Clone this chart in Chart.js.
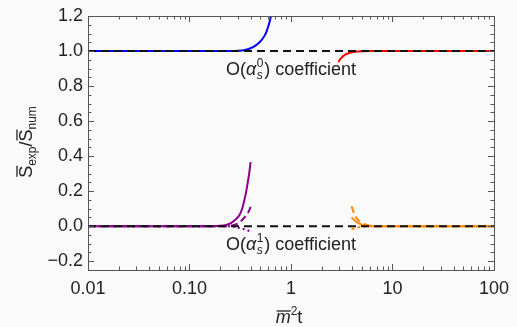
<!DOCTYPE html>
<html><head><meta charset="utf-8">
<script src="https://cdn.jsdelivr.net/npm/chart.js@4"></script>
<style>html,body{margin:0;padding:0;background:#fafafa;}#wrap{width:517px;height:327px;position:relative;}</style>
</head><body><div id="wrap"><canvas id="c" width="517" height="327"></canvas></div>
<script>
// ---- data ----
const xTickValues = [0.01, 0.1, 1, 10, 100];
const xTickLabels = ['0.01', '0.10', '1', '10', '100'];
const yTickValues = [-0.2, 0, 0.2, 0.4, 0.6, 0.8, 1.0, 1.2];
const yTickLabels = ['\u22120.2', '0.0', '0.2', '0.4', '0.6', '0.8', '1.0', '1.2'];

const refOneX = [0.01, 100];
const refOneY = [1, 1];
const refZeroX = [0.01, 100];
const refZeroY = [0, 0];

const blueX = [0.01, 0.1, 0.2, 0.3, 0.35, 0.40, 0.45, 0.50, 0.55, 0.58, 0.61, 0.635];
const blueY = [1.0, 1.0, 1.0, 1.002, 1.006, 1.016, 1.032, 1.056, 1.088, 1.118, 1.158, 1.2];

const redX = [2.93, 3.1, 3.4, 3.8, 4.3, 5.0, 6.0, 100];
const redY = [0.937, 0.958, 0.978, 0.990, 0.996, 0.999, 1.0, 1.0];

const purpleSolidX = [0.01, 0.15, 0.2, 0.23, 0.256, 0.28, 0.31, 0.33, 0.347, 0.36, 0.374, 0.387, 0.40];
const purpleSolidY = [0, 0, 0.002, 0.007, 0.017, 0.035, 0.063, 0.10, 0.149, 0.19, 0.246, 0.30, 0.366];
const purpleDashX = [0.01, 0.22, 0.27, 0.30, 0.33, 0.36, 0.38, 0.40];
const purpleDashY = [0, 0, 0.005, 0.015, 0.035, 0.06, 0.08, 0.11];
const purpleDotX = [0.01, 0.25, 0.30, 0.35, 0.40];
const purpleDotY = [0, 0, -0.008, -0.018, -0.03];

const orangeDashX = [3.95, 4.2, 4.5, 5.0, 5.5, 6.0, 7.0, 100];
const orangeDashY = [0.114, 0.07, 0.04, 0.018, 0.008, 0.003, 0, 0];
const orangeSolidX = [3.95, 4.3, 4.7, 5.2, 6.0, 7.0, 100];
const orangeSolidY = [0.05, 0.03, 0.015, 0.006, 0.001, 0, 0];
const orangeDotX = [3.95, 4.3, 4.8, 5.5, 6.5, 100];
const orangeDotY = [-0.017, -0.01, -0.004, -0.001, 0, 0];

const labelTopAnchor = [1, 0.863];
const labelBottomAnchor = [1, -0.137];

// ---- helpers ----
const pts = (xs, ys) => xs.map((x, i) => ({x: x, y: ys[i]}));
const FONT = "'Liberation Sans', Arial, sans-serif";

function ds(xs, ys, color, dash, order, width) {
  return {
    data: pts(xs, ys), borderColor: color, borderWidth: width || 2,
    borderDash: dash || [], pointRadius: 0, fill: false,
    cubicInterpolationMode: 'monotone', order: order
  };
}

function drawRich(ctx, parts, x, y, align) {
  // parts: {t, italic, size, dy, over, stack}
  let w = 0;
  parts.forEach(p => {
    ctx.font = (p.italic ? 'italic ' : '') + p.size + 'px ' + FONT;
    p.w = ctx.measureText(p.t).width;
    w += p.stack ? 0 : p.w + (p.gap || 0);
  });
  let cx = align === 'center' ? x - w / 2 : x;
  parts.forEach(p => {
    ctx.font = (p.italic ? 'italic ' : '') + p.size + 'px ' + FONT;
    ctx.textAlign = 'left';
    ctx.textBaseline = 'alphabetic';
    ctx.fillText(p.t, cx + (p.ox || 0), y + (p.dy || 0));
    if (p.over) {
      ctx.save();
      ctx.lineWidth = 1.3;
      ctx.strokeStyle = ctx.fillStyle;
      ctx.beginPath();
      const oy = y + (p.dy || 0) - p.over;
      ctx.moveTo(cx + 1, oy); ctx.lineTo(cx + p.w, oy);
      ctx.stroke();
      ctx.restore();
    }
    if (!p.stack) cx += p.w + (p.gap || 0);
  });
}

const framePlugin = {
  id: 'frame',
  afterDatasetsDraw(chart) {
    const ctx = chart.ctx, a = chart.chartArea;
    const xs = chart.scales.x, ys = chart.scales.y;
    ctx.save();
    ctx.strokeStyle = '#555';
    ctx.lineWidth = 1;
    ctx.strokeRect(Math.round(a.left) + 0.5, Math.round(a.top) + 0.5,
                   Math.round(a.right - a.left), Math.round(a.bottom - a.top));
    // x ticks
    const majX = xTickValues;
    const minX = [];
    [0.01, 0.1, 1, 10].forEach(d => { for (let k = 2; k <= 9; k++) minX.push(d * k); });
    ctx.beginPath();
    majX.concat(minX).forEach(v => {
      const L = majX.includes(v) ? 6 : 3.5;
      const px = Math.round(xs.getPixelForValue(v)) + 0.5;
      ctx.moveTo(px, a.bottom); ctx.lineTo(px, a.bottom - L);
      ctx.moveTo(px, a.top); ctx.lineTo(px, a.top + L);
    });
    // y ticks
    for (let i = -5; i <= 24; i++) {
      const v = i * 0.05;
      const maj = (i % 4 === 0);
      const L = maj ? 6 : 3.5;
      const py = Math.round(ys.getPixelForValue(v)) + 0.5;
      ctx.moveTo(a.left, py); ctx.lineTo(a.left + L, py);
      ctx.moveTo(a.right, py); ctx.lineTo(a.right - L, py);
    }
    ctx.stroke();

    ctx.fillStyle = '#222';
    // annotations
    const coef = (sup) => [
      {t: 'O(', size: 18},
      {t: '\u03B1', italic: true, size: 18, gap: 0.5},
      {t: 's', italic: true, size: 12, dy: 4, stack: true},
      {t: sup, size: 12, dy: -8, gap: 1},
      {t: ') coefficient', size: 18}
    ];
    drawRich(ctx, coef('0'), xs.getPixelForValue(labelTopAnchor[0]), ys.getPixelForValue(labelTopAnchor[1]), 'center');
    drawRich(ctx, coef('1'), xs.getPixelForValue(labelBottomAnchor[0]), ys.getPixelForValue(labelBottomAnchor[1]), 'center');

    // x title
    drawRich(ctx, [
      {t: 'm', italic: true, size: 18, over: 12},
      {t: '2', size: 12, dy: -8},
      {t: 't', size: 18}
    ], 289, 323, 'center');

    // y title (rotated)
    ctx.translate(32, 142);
    ctx.rotate(-Math.PI / 2);
    drawRich(ctx, [
      {t: 'S', size: 18, over: 15},
      {t: 'exp', size: 12, dy: 4},
      {t: '/', size: 18},
      {t: 'S', size: 18, over: 15},
      {t: 'num', size: 12, dy: 4}
    ], 0, 0, 'center');
    ctx.restore();
  }
};

new Chart(document.getElementById('c'), {
  type: 'line',
  data: {
    datasets: [
      ds(refOneX, refOneY, '#111', [8, 5], 0),
      ds(refZeroX, refZeroY, '#111', [8, 5], 0),
      ds(blueX, blueY, '#0000ff', [], 5),
      ds(redX, redY, '#ff0000', [], 5),
      ds(purpleSolidX, purpleSolidY, '#8b008b', [], 5),
      ds(purpleDashX, purpleDashY, '#8b008b', [7, 4], 5),
      ds(purpleDotX, purpleDotY, '#8b008b', [2, 3], 5),
      ds(orangeDashX, orangeDashY, '#ff8c00', [7, 4], 5),
      ds(orangeSolidX, orangeSolidY, '#ff8c00', [], 5),
      ds(orangeDotX, orangeDotY, '#ff8c00', [3, 3], 5)
    ]
  },
  options: {
    responsive: false, animation: false, devicePixelRatio: 1,
    layout: {padding: {left: 0, top: 16, right: 17, bottom: 0}},
    plugins: {legend: {display: false}, tooltip: {enabled: false}},
    scales: {
      x: {
        type: 'logarithmic', min: 0.01, max: 100,
        grid: {display: false, drawTicks: false}, border: {display: false},
        afterBuildTicks: s => { s.ticks = xTickValues.map(v => ({value: v})); },
        afterFit: s => { s.height = 57; },
        ticks: {
          autoSkip: false, maxRotation: 0, padding: 8, color: '#222',
          font: {size: 18, family: FONT},
          callback: (v) => { const i = xTickValues.indexOf(v); return i >= 0 ? xTickLabels[i] : ''; }
        }
      },
      y: {
        type: 'linear', min: -0.25, max: 1.2,
        grid: {display: false, drawTicks: false}, border: {display: false},
        afterBuildTicks: s => { s.ticks = yTickValues.map(v => ({value: v})); },
        afterFit: s => { s.width = 88; },
        ticks: {
          autoSkip: false, padding: 5, color: '#222',
          font: {size: 18, family: FONT},
          callback: (v) => { const i = yTickValues.findIndex(t => Math.abs(t - v) < 1e-9); return i >= 0 ? yTickLabels[i] : ''; }
        }
      }
    }
  },
  plugins: [framePlugin]
});
</script>
</body></html>
